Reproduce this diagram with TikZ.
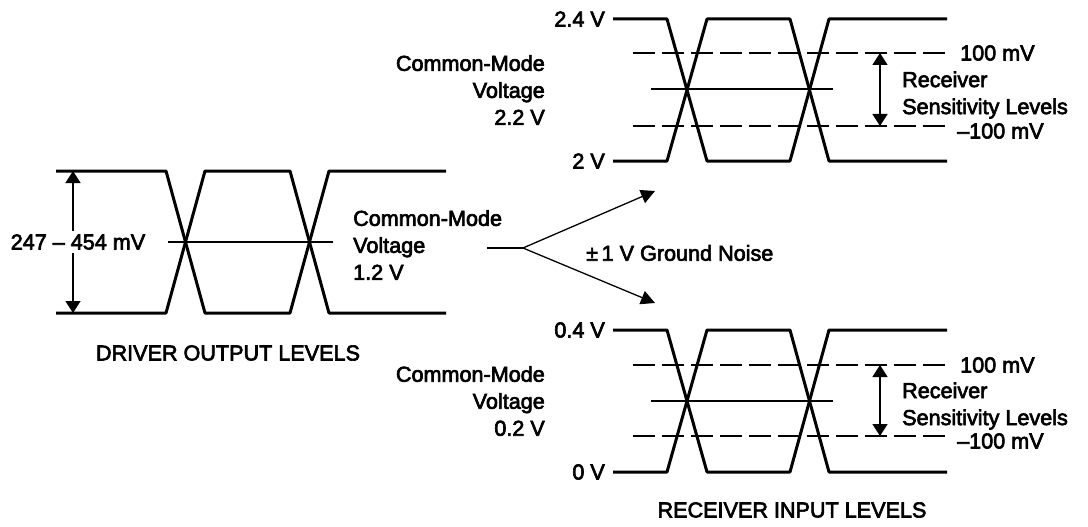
\documentclass[tikz,border=0pt]{standalone}
\usepackage{fontspec}
\setmainfont{Liberation Sans}
\newfontfamily\lblfont{Liberation Sans}[FakeBold=3]
\usetikzlibrary{arrows.meta}
\begin{document}
\begin{tikzpicture}[x=1pt,y=-1pt,
  sig/.style={line width=3pt,line join=round},
  mid/.style={line width=2pt},
  dsh/.style={line width=1.3pt,dash pattern=on 22pt off 7pt},
  dimarrow/.style={line width=1.5pt,-{Triangle[width=15pt,length=12pt]}},
  fork/.style={line width=1.3pt},
  forkarrow/.style={line width=1.3pt,-{Triangle[width=14pt,length=14pt]}},
  lbl/.style={font=\lblfont\fontsize{21.6}{27}\selectfont,inner sep=0pt}]
\useasboundingbox (0,0) rectangle (1088,527);

% ---------- driver eye ----------
\draw[sig] (56,171) -- (166,171) -- (205,313) -- (290,313) -- (329,171) -- (446,171);
\draw[sig] (56,313) -- (166,313) -- (205,171) -- (290,171) -- (329,313) -- (446,313);
\draw[mid] (168,242) -- (333,242);
\node[lbl] (swing) at (78,242) {247 – 454 mV};
\coordinate (dtop) at (73,171);
\coordinate (dbot) at (73,313);
\draw[dimarrow] (swing.north -| dtop) ++(0,-3) -- (dtop);
\draw[dimarrow] (swing.south -| dbot) ++(0,3) -- (dbot);
\node[lbl,anchor=west,align=left] (cm1) at (353,245) {Common-Mode\\Voltage\\1.2 V};
\node[lbl] (drv) at (228,353) {DRIVER OUTPUT LEVELS};

% ---------- fork ----------
\coordinate (f0) at (487,248);
\coordinate (f1) at (523,248);
\coordinate (fu) at (655,191);
\coordinate (fd) at (655,303);
\draw[fork] (f0) -- (f1);
\draw[forkarrow] (f1) -- (fu);
\draw[forkarrow] (f1) -- (fd);
\node[lbl,anchor=west] (gn) at (586,253) {±\,1 V Ground Noise};

% ---------- upper receiver eye ----------
\draw[sig] (613,19) -- (667,19) -- (707,161) -- (790,161) -- (829,19) -- (947,19);
\draw[sig] (613,161) -- (667,161) -- (707,19) -- (790,19) -- (829,161) -- (947,161);
\draw[mid] (651,89) -- (833,89);
\draw[dsh] (633,53) -- (947,53);
\draw[dsh] (633,126) -- (947,126);
\coordinate (ua) at (880,53);
\coordinate (ub) at (880,126);
\coordinate (um) at (880,89);
\draw[dimarrow] (um) -- (ua);
\draw[dimarrow] (um) -- (ub);
\node[lbl,anchor=east] (u24) at (605,19) {2.4 V};
\node[lbl,anchor=east] (u2) at (605,161) {2 V};
\node[lbl,anchor=west] (up100) at (960,53) {100 mV};
\node[lbl,anchor=west] (um100) at (957,131) {–100 mV};
\node[lbl,anchor=west,align=left] (urs) at (902,95) {Receiver\\Sensitivity Levels};
\node[lbl,anchor=east,align=right] (cm2) at (545,90) {Common-Mode\\Voltage\\2.2 V};

% ---------- lower receiver eye ----------
\draw[sig] (613,330) -- (667,330) -- (707,472) -- (790,472) -- (829,330) -- (947,330);
\draw[sig] (613,472) -- (667,472) -- (707,330) -- (790,330) -- (829,472) -- (947,472);
\draw[mid] (651,401) -- (833,401);
\draw[dsh] (633,365) -- (947,365);
\draw[dsh] (633,436) -- (947,436);
\coordinate (la) at (880,365);
\coordinate (lb) at (880,436);
\coordinate (lm) at (880,401);
\draw[dimarrow] (lm) -- (la);
\draw[dimarrow] (lm) -- (lb);
\node[lbl,anchor=east] (l04) at (605,330) {0.4 V};
\node[lbl,anchor=east] (l0) at (605,472) {0 V};
\node[lbl,anchor=west] (lp100) at (960,365) {100 mV};
\node[lbl,anchor=west] (lm100) at (957,441) {–100 mV};
\node[lbl,anchor=west,align=left] (lrs) at (902,406) {Receiver\\Sensitivity Levels};
\node[lbl,anchor=east,align=right] (cm3) at (545,401) {Common-Mode\\Voltage\\0.2 V};
\node[lbl] (rcv) at (792,510) {RECEIVER INPUT LEVELS};
\end{tikzpicture}
\end{document}
